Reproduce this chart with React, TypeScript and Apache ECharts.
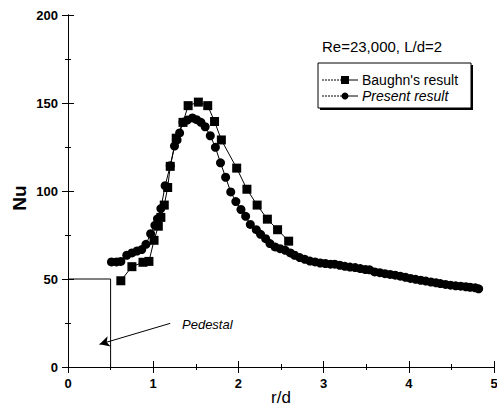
import React, { useEffect, useRef } from "react";
import * as echarts from "echarts";

const baughnR = [0.62, 0.75, 0.88, 0.95, 1.01, 1.06, 1.09, 1.13, 1.17, 1.2, 1.27, 1.35, 1.41, 1.53, 1.64, 1.72, 1.8, 1.98, 2.1, 2.22, 2.34, 2.46, 2.59];
const baughnNu = [49, 57, 59.5, 60, 72, 80, 85, 92, 102, 114, 130, 139, 148.5, 150.5, 148.5, 139.5, 129, 113, 101, 92, 84, 78, 71.5];

const presentR = [
  0.51, 0.57, 0.62, 0.69, 0.75, 0.81, 0.865, 0.915, 0.97, 1.02, 1.05, 1.09, 1.14, 1.2, 1.25, 1.28, 1.31, 1.35, 1.4, 1.46,
  1.51, 1.56, 1.61, 1.67, 1.73, 1.79, 1.85, 1.91, 1.97, 2.03, 2.085, 2.14, 2.21, 2.26, 2.32, 2.37, 2.43, 2.49, 2.55, 2.61,
  2.66, 2.72, 2.78, 2.84, 2.9, 2.96, 3.02, 3.08, 3.13, 3.19, 3.25, 3.31, 3.37, 3.43, 3.49, 3.54, 3.6, 3.66, 3.72, 3.78,
  3.84, 3.9, 3.96, 4.02, 4.08, 4.14, 4.2, 4.26, 4.32, 4.37, 4.43, 4.49, 4.55, 4.61, 4.67, 4.72, 4.78, 4.82,
];
const presentNu = [
  59.7, 59.7, 60, 63.5, 64.8, 65.9, 66.7, 69.7, 75.7, 80.5, 84.2, 90, 103, 114.4, 125.5, 129, 133, 139, 140.3, 141.5,
  140.5, 139, 136.5, 131.4, 124.8, 116, 107.8, 99.5, 94, 89.5, 85.6, 81, 78, 75.4, 72.9, 70.1, 68.2, 67.2, 66.3, 64.8,
  63.5, 62.2, 61.2, 60.2, 59.7, 59.1, 58.8, 58.4, 58.4, 57.8, 57.2, 56.8, 56.5, 55.9, 55.4, 55.2, 54.0, 53.6, 53.0, 52.6,
  52.2, 51.6, 51.0, 50.3, 49.8, 49.3, 48.8, 48.3, 47.8, 47.4, 46.9, 46.5, 46.1, 45.9, 45.6, 45.3, 45.0, 44.4,
];

const pedestalR = [0, 0.5, 0.5];
const pedestalNu = [50, 50, 0];
const arrowFrom = [1.2, 24.8];
const arrowTo = [0.37, 12.9];

const xTicks = [0, 1, 2, 3, 4, 5];
const yTicks = [0, 50, 100, 150, 200];

const FONT = "'Liberation Sans', Arial, sans-serif";

export default function App() {
  const ref = useRef<HTMLDivElement>(null);
  useEffect(() => {
    if (!ref.current) return;
    const chart = echarts.init(ref.current, null, { renderer: "svg" });
    const zip = (a: number[], b: number[]) => a.map((v, i) => [v, b[i]]);
    const axisCommon = {
      axisLine: { show: true, lineStyle: { color: "#000", width: 1 } },
      axisTick: { show: true, inside: true, length: 6, lineStyle: { color: "#000" } },
      minorTick: { show: true, splitNumber: 2, length: 3, lineStyle: { color: "#000" } },
      splitLine: { show: false },
    };
    chart.setOption({
      animation: false,
      backgroundColor: "#fff",
      grid: { left: 68, right: 3, top: 15, bottom: 43, containLabel: false, outerBoundsMode: "none" },
      xAxis: [
        {
          type: "value",
          min: xTicks[0],
          max: xTicks[xTicks.length - 1],
          interval: 1,
          ...axisCommon,
          axisLabel: { color: "#000", fontFamily: FONT, fontWeight: "bold", fontSize: 13, margin: 10 },
        },
        {
          type: "value",
          position: "top",
          min: xTicks[0],
          max: xTicks[xTicks.length - 1],
          interval: 1,
          ...axisCommon,
          axisLabel: { show: false },
        },
      ],
      yAxis: [
        {
          type: "value",
          min: yTicks[0],
          max: yTicks[yTicks.length - 1],
          interval: 50,
          ...axisCommon,
          axisLabel: { color: "#000", fontFamily: FONT, fontWeight: "bold", fontSize: 13, margin: 10 },
        },
        {
          type: "value",
          position: "right",
          min: yTicks[0],
          max: yTicks[yTicks.length - 1],
          interval: 50,
          ...axisCommon,
          axisLabel: { show: false },
        },
      ],
      series: [
        {
          name: "Pedestal",
          type: "line",
          data: zip(pedestalR, pedestalNu),
          symbol: "none",
          lineStyle: { color: "#000", width: 1 },
          silent: true,
          markLine: {
            silent: true,
            symbol: ["none", "arrow"],
            symbolSize: [8, 10],
            label: { show: false },
            lineStyle: { color: "#000", width: 1, type: "solid" },
            data: [[{ coord: arrowFrom }, { coord: arrowTo }]],
          },
        },
        {
          name: "Baughn's result",
          type: "line",
          data: zip(baughnR, baughnNu),
          symbol: "rect",
          symbolSize: 9,
          itemStyle: { color: "#000" },
          lineStyle: { color: "#000", width: 1 },
        },
        {
          name: "Present result",
          type: "line",
          data: zip(presentR, presentNu),
          symbol: "circle",
          symbolSize: 9,
          itemStyle: { color: "#000" },
          lineStyle: { color: "#000", width: 1 },
        },
      ],
      graphic: [
        {
          type: "text",
          x: 19,
          y: 198,
          rotation: Math.PI / 2,
          style: { text: "Nu", fill: "#000", font: `bold 19px ${FONT}`, align: "center", verticalAlign: "middle" },
        },
        {
          type: "text",
          x: 281,
          y: 397,
          style: { text: "r/d", fill: "#000", font: `17px ${FONT}`, align: "center", verticalAlign: "middle" },
        },
        {
          type: "text",
          left: 182,
          top: 318,
          style: { text: "Pedestal", fill: "#000", font: `italic 13px ${FONT}` },
        },
        {
          type: "text",
          left: 322,
          top: 39,
          style: { text: "Re=23,000, L/d=2", fill: "#000", font: `15px ${FONT}` },
        },
        { type: "rect", shape: { x: 320, y: 65, width: 153, height: 45 }, style: { fill: "#000" } },
        { type: "rect", shape: { x: 318, y: 63, width: 153, height: 45 }, style: { fill: "#fff", stroke: "#000", lineWidth: 1 } },
        { type: "line", shape: { x1: 322, y1: 80, x2: 340, y2: 80 }, style: { stroke: "#000", lineWidth: 1, lineDash: [2, 1] } },
        { type: "line", shape: { x1: 340, y1: 80, x2: 358, y2: 80 }, style: { stroke: "#000", lineWidth: 1 } },
        { type: "rect", shape: { x: 341, y: 76, width: 8, height: 8 }, style: { fill: "#000" } },
        { type: "text", left: 362, top: 73, style: { text: "Baughn's result", fill: "#000", font: `14px ${FONT}` } },
        { type: "line", shape: { x1: 322, y1: 96, x2: 340, y2: 96 }, style: { stroke: "#000", lineWidth: 1, lineDash: [2, 1] } },
        { type: "line", shape: { x1: 340, y1: 96, x2: 358, y2: 96 }, style: { stroke: "#000", lineWidth: 1 } },
        { type: "circle", shape: { cx: 345, cy: 96, r: 3.5 }, style: { fill: "#000" } },
        { type: "text", left: 362, top: 89, style: { text: "Present result", fill: "#000", font: `italic 14px ${FONT}` } },
      ],
    });
    return () => chart.dispose();
  }, []);
  return <div ref={ref} style={{ width: 497, height: 410, position: "absolute", left: 0, top: 0 }} />;
}
